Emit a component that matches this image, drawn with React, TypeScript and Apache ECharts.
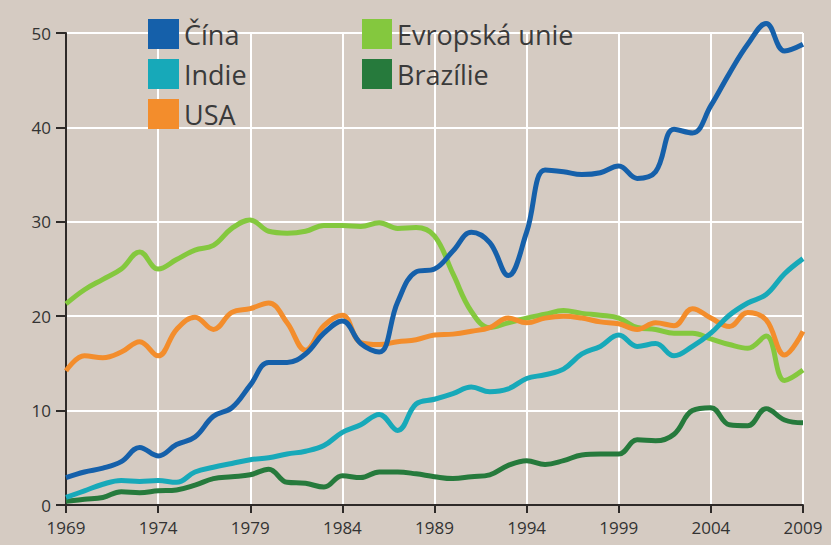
import React, { useEffect, useRef } from "react";
import * as echarts from "echarts";

const years: string[] = [];
for (let y = 1969; y <= 2009; y++) years.push(String(y));

const china = [2.9, 3.5, 3.9, 4.6, 6.1, 5.2, 6.4, 7.2, 9.4, 10.3, 12.7, 15.1, 15.1, 16.0, 18.2, 19.5, 17.1, 16.2, 21.5, 24.7, 25.0, 26.9, 28.9, 27.8, 24.3, 28.9, 35.5, 35.3, 35.0, 35.2, 35.9, 34.6, 35.3, 39.8, 39.4, 42.3, 45.7, 48.8, 51.0, 48.1, 48.8];
const india = [0.8, 1.5, 2.2, 2.6, 2.5, 2.6, 2.4, 3.5, 4.0, 4.4, 4.8, 5.0, 5.4, 5.7, 6.3, 7.7, 8.5, 9.6, 7.9, 10.7, 11.2, 11.8, 12.5, 12.0, 12.3, 13.4, 13.8, 14.4, 16.0, 16.8, 18.0, 16.8, 17.1, 15.8, 16.8, 18.2, 20.1, 21.4, 22.3, 24.5, 26.1];
const usa = [14.2, 15.8, 15.6, 16.2, 17.3, 15.8, 18.6, 19.9, 18.6, 20.4, 20.8, 21.4, 19.3, 16.4, 19.0, 20.1, 17.2, 17.0, 17.3, 17.5, 18.0, 18.1, 18.4, 18.8, 19.8, 19.3, 19.8, 20.0, 19.8, 19.4, 19.2, 18.6, 19.3, 19.0, 20.8, 19.8, 18.9, 20.4, 19.6, 15.9, 18.4];
const eu = [21.3, 22.8, 23.9, 25.0, 26.8, 25.0, 26.0, 27.0, 27.5, 29.3, 30.2, 29.0, 28.8, 29.0, 29.6, 29.6, 29.5, 29.9, 29.3, 29.4, 28.5, 24.5, 20.5, 18.8, 19.3, 19.8, 20.2, 20.6, 20.3, 20.1, 19.8, 18.8, 18.6, 18.2, 18.2, 17.6, 17.0, 16.6, 17.9, 13.2, 14.3];
const brazil = [0.4, 0.6, 0.8, 1.4, 1.3, 1.5, 1.6, 2.1, 2.8, 3.0, 3.2, 3.8, 2.4, 2.3, 1.9, 3.1, 2.9, 3.5, 3.5, 3.3, 3.0, 2.8, 3.0, 3.2, 4.2, 4.7, 4.3, 4.7, 5.3, 5.4, 5.4, 6.9, 6.8, 7.5, 10.0, 10.3, 8.5, 8.4, 10.2, 9.0, 8.7];

const seriesNames = ["Čína", "Indie", "USA", "Evropská unie", "Brazílie"];
const seriesData = [china, india, usa, eu, brazil];
const colors = ["#1560aa", "#17a9b9", "#f38d2c", "#84c83e", "#267a3c"];

export default function App() {
  const ref = useRef<HTMLDivElement>(null);
  useEffect(() => {
    if (!ref.current) return;
    const chart = echarts.init(ref.current, undefined, { renderer: "svg" });
    const font = "'Open Sans', 'Noto Sans', sans-serif";
    const legendText = { fontSize: 27, color: "#3a3a3a", fontFamily: font };
    chart.setOption({
      animation: false,
      backgroundColor: "#d5cbc2",
      textStyle: { fontFamily: font },
      legend: [
        {
          left: 143,
          top: 14,
          orient: "vertical",
          icon: "rect",
          itemWidth: 31,
          itemHeight: 30,
          itemGap: 10,
          data: seriesNames.slice(0, 3),
          textStyle: legendText,
        },
        {
          left: 357,
          top: 14,
          orient: "vertical",
          icon: "rect",
          itemWidth: 30,
          itemHeight: 30,
          itemGap: 10,
          data: seriesNames.slice(3),
          textStyle: legendText,
        },
      ],
      grid: { left: 66, right: 28, top: 33, bottom: 40 },
      xAxis: {
        type: "category",
        data: years,
        boundaryGap: false,
        axisLine: { lineStyle: { color: "#2e2a28", width: 2 } },
        axisTick: { interval: 4, length: 8, lineStyle: { color: "#2e2a28", width: 2 } },
        axisLabel: { interval: 4, fontSize: 17, color: "#333", margin: 14, fontFamily: font },
        splitLine: { show: true, interval: 4, lineStyle: { color: "#ffffff", width: 2 } },
      },
      yAxis: {
        type: "value",
        min: 0,
        max: 50,
        interval: 10,
        axisLine: { show: true, lineStyle: { color: "#2e2a28", width: 2 } },
        axisTick: { show: true, length: 10, lineStyle: { color: "#2e2a28", width: 2 } },
        axisLabel: { fontSize: 17, color: "#333", margin: 15, fontFamily: font },
        splitLine: { show: true, lineStyle: { color: "#ffffff", width: 2 } },
      },
      series: seriesNames.map((n, i) => ({
        name: n,
        type: "line",
        data: seriesData[i],
        smooth: 0.4,
        clip: false,
        showSymbol: false,
        symbol: "none",
        itemStyle: { color: colors[i] },
        lineStyle: { color: colors[i], width: 5 },
        z: 10 - i,
      })),
    });
    return () => chart.dispose();
  }, []);
  return (
    <div
      ref={ref}
      style={{ position: "fixed", left: 0, top: 0, width: 831, height: 545 }}
    />
  );
}
